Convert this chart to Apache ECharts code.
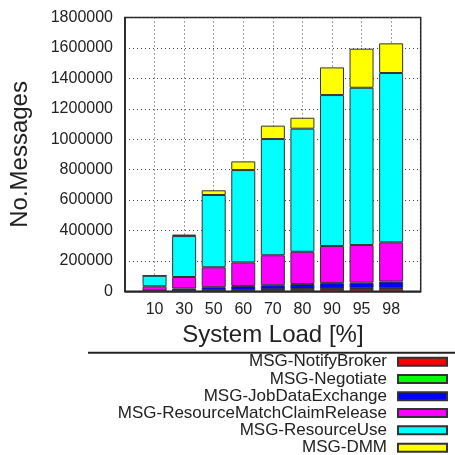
<!DOCTYPE html>
<html>
<head>
<meta charset="utf-8">
<script src="https://cdn.jsdelivr.net/npm/echarts@6/dist/echarts.min.js"></script>
<style>html,body{margin:0;padding:0;background:#fff}#c{width:455px;height:455px}</style>
</head>
<body>
<div id="c"></div>
<script>
var categories = ['', '10', '30', '50', '60', '70', '80', '90', '95', '98', ''];
var seriesNames = ['MSG-NotifyBroker', 'MSG-Negotiate', 'MSG-JobDataExchange', 'MSG-ResourceMatchClaimRelease', 'MSG-ResourceUse', 'MSG-DMM'];
var seriesColors = ['#ff0000', '#00ff00', '#0000ff', '#ff00ff', '#00ffff', '#ffff00'];
var notifyBroker = [null, 1000, 3000, 5000, 7000, 10000, 12000, 15000, 16000, 17000, null];
var negotiate = [null, 500, 1000, 1500, 2000, 2500, 3000, 3500, 4000, 4000, null];
var jobDataExchange = [null, 3500, 14000, 20500, 26000, 27500, 33000, 35500, 37000, 43000, null];
var resourceMatchClaimRelease = [null, 28000, 76000, 131000, 155000, 197000, 212000, 244000, 247000, 258000, null];
var resourceUse = [null, 69500, 269000, 475000, 607000, 764000, 809000, 992000, 1034000, 1113000, null];
var dmm = [null, 0, 10000, 31000, 57000, 88000, 72000, 182000, 257000, 195000, null];
var yTicks = {min: 0, max: 1800000, interval: 200000};

var allData = [notifyBroker, negotiate, jobDataExchange, resourceMatchClaimRelease, resourceUse, dmm];
var font = 'Liberation Sans, Arial, sans-serif';
var txt = '#222';

var series = allData.map(function (d, i) {
  return {
    name: seriesNames[i],
    type: 'bar',
    stack: 'total',
    barWidth: 24,
    data: d,
    itemStyle: {color: seriesColors[i], borderColor: '#333', borderWidth: 1},
    emphasis: {disabled: true}
  };
});

var rowCenters = [361.7, 379, 396.3, 413, 430.3, 447.7];
var legends = seriesNames.map(function (n, i) {
  return {
    data: [n],
    orient: 'vertical',
    align: 'right',
    right: 7,
    top: rowCenters[i] - 9,
    padding: 0,
    itemWidth: 49,
    itemHeight: 8,
    icon: 'rect',
    selectedMode: false,
    textStyle: {fontFamily: font, fontSize: 17, color: txt, lineHeight: 18, padding: [0, 6, 0, 0]}
  };
});

var chart = echarts.init(document.getElementById('c'), null, {renderer: 'canvas'});
chart.setOption({
  animation: false,
  backgroundColor: '#fff',
  grid: {left: 123.5, right: 34.3, top: 17.5, bottom: 163.7, show: true, borderColor: '#222', borderWidth: 1.5, backgroundColor: 'transparent'},
  legend: legends,
  xAxis: {
    type: 'category',
    data: categories,
    boundaryGap: false,
    name: 'System Load [%]',
    nameLocation: 'middle',
    nameGap: 32,
    nameTextStyle: {fontFamily: font, fontSize: 24, color: txt},
    axisLine: {show: true, lineStyle: {color: '#222', width: 1.5}},
    axisTick: {show: false},
    axisLabel: {fontFamily: font, fontSize: 16, color: txt, margin: 10, interval: 0},
    splitLine: {show: true, interval: 0, lineStyle: {color: '#444', width: 1, type: [1, 3]}}
  },
  yAxis: {
    type: 'value',
    min: yTicks.min,
    max: yTicks.max,
    interval: yTicks.interval,
    name: 'No.Messages',
    nameLocation: 'middle',
    nameGap: 93,
    nameTextStyle: {fontFamily: font, fontSize: 24, color: txt},
    axisLine: {show: true, lineStyle: {color: '#222', width: 1.5}},
    axisTick: {show: false},
    axisLabel: {fontFamily: font, fontSize: 16, color: txt, margin: 12, formatter: function (v) { return String(v); }},
    splitLine: {show: true, lineStyle: {color: '#444', width: 1, type: [1, 3]}}
  },
  graphic: [{
    type: 'line',
    shape: {x1: 88, y1: 352.7, x2: 455, y2: 352.7},
    style: {stroke: '#222', lineWidth: 2}
  }],
  series: series
});
</script>
</body>
</html>
